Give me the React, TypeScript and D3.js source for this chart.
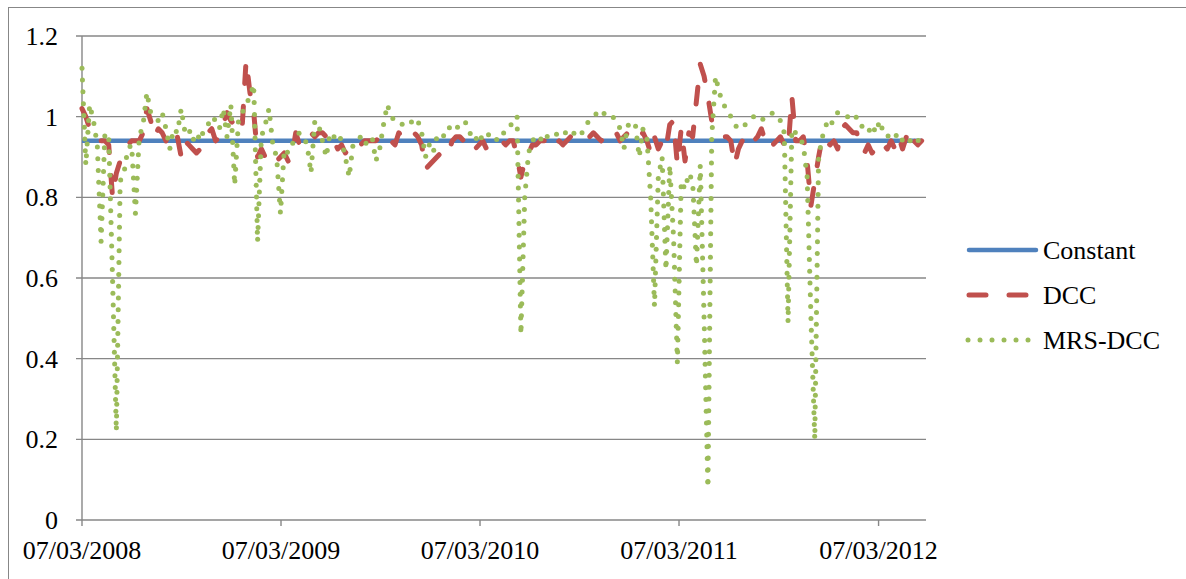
import React from 'react';
import * as d3 from 'd3';

// weekly observations starting 07/03/2008
const START = '07/03/2008';
const END = '02/06/2012';
const CONSTANT = 0.94;

const DCC = [
  1.02, 1.00, 0.97, 0.95, 0.94, 0.94, 0.94, 0.93, 0.80, 0.86,
  0.89, 0.91, 0.93, 0.94, 0.94, 0.94, 0.96, 1.02, 0.99, 0.95,
  0.97, 0.96, 0.94, 0.96, 0.94, 0.95, 0.90, 0.94, 0.93, 0.92,
  0.91, 0.92, 0.93, 0.96, 0.97, 0.94, 0.95, 0.98, 1.01, 0.99,
  0.98, 1.00, 0.98, 1.14, 1.06, 1.01, 0.90, 0.92, 0.90, 0.88,
  0.88, 0.89, 0.90, 0.91, 0.89, 0.90, 0.96, 0.93, 0.93, 0.95,
  0.96, 0.95, 0.96, 0.96, 0.95, 0.93, 0.94, 0.92, 0.93, 0.91,
  0.92, 0.93, 0.94, 0.93, 0.94, 0.94, 0.94, 0.94, 0.95, 0.94,
  0.93, 0.94, 0.93, 0.96, 0.95, 0.96, 0.97, 0.96, 0.95, 0.93,
  0.87, 0.88, 0.89, 0.90, 0.91, 0.92, 0.91, 0.94, 0.95, 0.95,
  0.94, 0.93, 0.94, 0.92, 0.93, 0.94, 0.92, 0.93, 0.94, 0.94,
  0.94, 0.93, 0.94, 0.94, 0.90, 0.85, 0.89, 0.91, 0.93, 0.93,
  0.94, 0.94, 0.94, 0.95, 0.93, 0.94, 0.93, 0.94, 0.95, 0.94,
  0.94, 0.94, 0.95, 0.95, 0.96, 0.95, 0.94, 0.95, 0.96, 0.95,
  0.96, 0.94, 0.95, 0.96, 0.95, 0.94, 0.95, 0.96, 0.94, 0.91,
  0.95, 0.92, 0.94, 0.92, 0.98, 0.99, 0.88, 0.97, 0.89, 0.96,
  0.95, 1.04, 1.13, 1.10, 1.05, 0.99, 0.97, 0.96, 0.95, 0.95,
  0.94, 0.88, 0.92, 0.94, 0.95, 0.96, 0.94, 0.95, 0.97, 0.94,
  0.95, 0.93, 0.94, 0.95, 0.93, 0.92, 1.05, 0.94, 0.94, 0.95,
  0.89, 0.78, 0.84, 0.90, 0.95, 0.94, 0.93, 0.94, 0.92, 0.97,
  0.98, 0.97, 0.96, 0.96, 0.92, 0.91, 0.93, 0.91, 0.92, 0.91,
  0.93, 0.92, 0.94, 0.92, 0.95, 0.92, 0.95, 0.92, 0.94, 0.93, 0.94,
];

const MRS_DCC = [
  1.12, 0.88, 1.03, 0.99, 0.93, 0.69, 0.96, 0.95, 0.60, 0.22,
  0.84, 0.86, 0.92, 0.93, 0.76, 0.95, 0.98, 1.06, 1.01, 1.00,
  0.99, 1.01, 0.97, 0.92, 0.97, 0.96, 1.02, 0.96, 0.97, 0.94,
  0.96, 0.94, 0.97, 0.98, 1.00, 0.99, 0.97, 1.02, 0.95, 1.03,
  0.83, 0.99, 1.01, 1.03, 1.05, 1.08, 0.69, 0.95, 0.98, 1.02,
  0.93, 0.90, 0.76, 0.92, 0.91, 0.93, 0.95, 0.96, 0.95, 0.93,
  0.86, 0.99, 0.98, 0.94, 0.90, 0.96, 0.95, 0.96, 0.94, 0.90,
  0.85, 0.93, 0.94, 0.95, 0.93, 0.94, 0.95, 0.89, 0.92, 0.98,
  1.03, 1.00, 0.99, 0.99, 0.98, 0.99, 0.99, 0.98, 0.99, 0.96,
  0.90, 0.93, 0.91, 0.95, 0.96, 0.95, 0.97, 0.98, 0.97, 0.98,
  0.99, 0.98, 0.95, 0.94, 0.96, 0.94, 0.95, 0.96, 0.95, 0.94,
  0.95, 0.97, 0.98, 0.98, 1.00, 0.46, 0.80, 0.91, 0.94, 0.95,
  0.94, 0.96, 0.95, 0.96, 0.96, 0.95, 0.96, 0.96, 0.95, 0.96,
  0.97, 0.96, 0.98, 0.99, 1.00, 1.01, 1.00, 1.01, 1.00, 1.00,
  0.99, 0.97, 0.92, 0.98, 0.97, 0.98, 0.90, 0.97, 0.95, 0.80,
  0.53, 0.85, 0.90, 0.62, 0.88, 0.70, 0.39, 0.84, 0.82, 0.86,
  0.84, 0.63, 0.88, 0.50, 0.08, 0.95, 1.10, 1.06, 1.03, 1.02,
  1.00, 0.98, 0.97, 0.98, 0.98, 0.99, 1.00, 1.00, 0.99, 1.00,
  1.00, 1.01, 1.00, 0.99, 0.96, 0.49, 0.97, 0.96, 0.95, 0.93,
  0.85, 0.50, 0.20, 0.90, 0.95, 0.98, 0.97, 1.00, 1.01, 1.01,
  1.00, 1.00, 0.99, 1.00, 0.98, 0.97, 0.96, 0.98, 0.96, 0.99,
  0.96, 0.95, 0.96, 0.95, 0.96, 0.94, 0.95, 0.94, 0.95, 0.94, 0.95,
];

const Y_TICKS = [0, 0.2, 0.4, 0.6, 0.8, 1, 1.2];
const X_TICKS = ['07/03/2008', '07/03/2009', '07/03/2010', '07/03/2011', '07/03/2012'];
const SERIES = ['Constant', 'DCC', 'MRS-DCC'];

const FONT = 'Liberation Serif';
const GRID = '#878787';
const BLUE = '#4F81BD';
const RED = '#C0504D';
const GREEN = '#9BBB59';
const DOT_STEP = 11.8;
const DOT_R = 2.5;

// places round dots every `step` px along a polyline (like a "round dot" line style)
function dotsAlong(pts: [number, number][], step: number) {
  const out: [number, number][] = [];
  let carry = 0;
  for (let i = 1; i < pts.length; i++) {
    const [x0, y0] = pts[i - 1];
    const [x1, y1] = pts[i];
    const len = Math.hypot(x1 - x0, y1 - y0);
    let t = carry;
    while (t <= len) {
      const f = len === 0 ? 0 : t / len;
      out.push([x0 + (x1 - x0) * f, y0 + (y1 - y0) * f]);
      t += step;
    }
    carry = t - len;
  }
  return out;
}

export default function App() {
  const parse = d3.timeParse('%d/%m/%Y');
  const start = parse(START)!;
  const left = 82, right = 926, top = 36, bottom = 520;

  const x = d3.scaleTime().domain([start, parse(END)!]).range([left, right]);
  const y = d3.scaleLinear().domain([0, 1.2]).range([bottom, top]);

  const dates = DCC.map((_, i) => d3.timeDay.offset(start, 7 * i));
  const line = d3.line<number>().x((_, i) => x(dates[i])).y(d => y(d));
  const constLine = d3.line<Date>().x(d => x(d)).y(() => y(CONSTANT));

  const mrsPts = MRS_DCC.map((v, i) => [x(dates[i]), y(v)] as [number, number]);
  const mrsDots = dotsAlong(mrsPts, DOT_STEP);

  const legendY = [250, 295, 340];
  const legendDots = dotsAlong([[968, legendY[2]], [1030, legendY[2]]], 12);

  return (
    <svg width={1186} height={579} fontFamily={FONT} fontSize={26}
      style={{ position: 'absolute', left: 0, top: 0, fontFamily: FONT }}>
      <rect x={0} y={0} width={1186} height={579} fill="#fff" />
      <rect x={8.5} y={7.5} width={1300} height={700} fill="none" stroke={GRID} strokeWidth={1} />

      {/* grid + y ticks */}
      {Y_TICKS.map(t => (
        <g key={t}>
          <line x1={left - 6} x2={right} y1={y(t)} y2={y(t)} stroke={GRID} strokeWidth={1.4} />
          <text x={58} y={y(t)} dy="0.35em" textAnchor="end" fill="#000">
            {d3.format('~g')(t)}
          </text>
        </g>
      ))}
      <line x1={left} x2={left} y1={top} y2={bottom} stroke={GRID} strokeWidth={1.4} />

      {/* x ticks */}
      {X_TICKS.map(s => {
        const px = x(parse(s)!);
        return (
          <g key={s}>
            <line x1={px} x2={px} y1={bottom} y2={bottom + 6} stroke={GRID} strokeWidth={1.4} />
            <text x={px} y={559} textAnchor="middle" fill="#000">{s}</text>
          </g>
        );
      })}

      {/* series */}
      <path d={constLine([dates[0], dates[dates.length - 1]]) ?? ''} fill="none" stroke={BLUE} strokeWidth={4.5} />
      <path d={line(DCC) ?? ''} fill="none" stroke={RED} strokeWidth={5} strokeDasharray="17 23"
        strokeLinecap="round" strokeLinejoin="round" />
      <g fill={GREEN}>
        {mrsDots.map(([cx, cy], i) => <circle key={i} cx={cx} cy={cy} r={DOT_R} />)}
      </g>

      {/* legend */}
      <line x1={969} x2={1036} y1={legendY[0]} y2={legendY[0]} stroke={BLUE} strokeWidth={4.5} strokeLinecap="round" />
      <line x1={969} x2={1036} y1={legendY[1]} y2={legendY[1]} stroke={RED} strokeWidth={5}
        strokeDasharray="17 23" strokeLinecap="round" />
      <g fill={GREEN}>
        {legendDots.map(([cx, cy], i) => <circle key={i} cx={cx} cy={cy} r={DOT_R} />)}
      </g>
      {SERIES.map((name, i) => (
        <text key={name} x={1043} y={legendY[i]} dy="0.35em" fill="#000">{name}</text>
      ))}
    </svg>
  );
}
